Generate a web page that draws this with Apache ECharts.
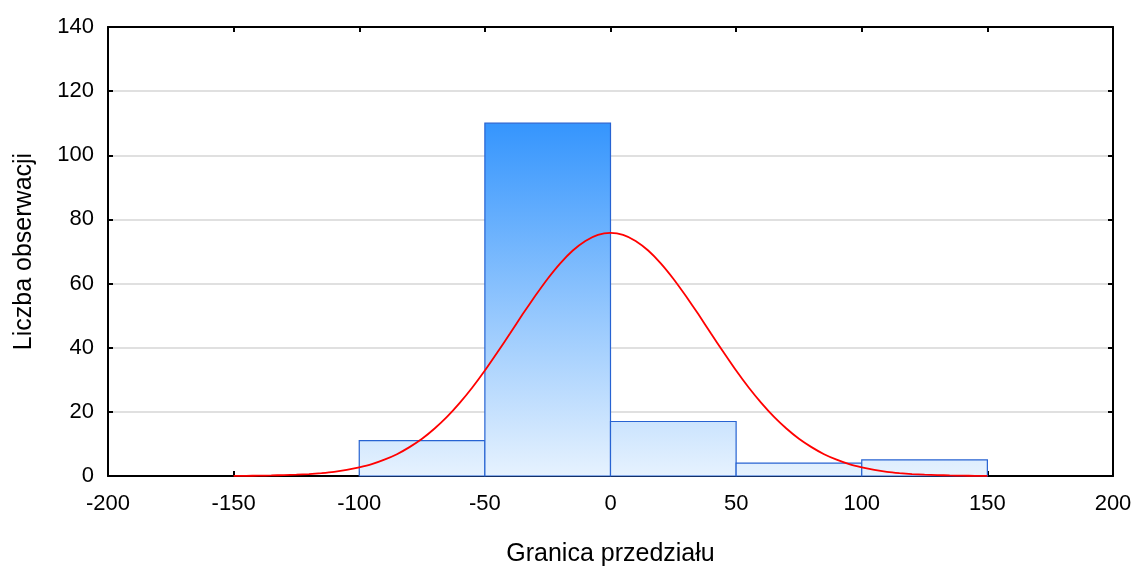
<!DOCTYPE html>
<html>
<head>
<meta charset="utf-8">
<script src="https://cdn.jsdelivr.net/npm/echarts@6/dist/echarts.min.js"></script>
<style>
  html, body { margin: 0; padding: 0; background: #fff; }
  #chart { width: 1138px; height: 566px; }
</style>
</head>
<body>
<div id="chart"></div>
<script>
// histogram bins (bin edges + counts)
const binStart = [-100, -50, 0, 50, 100]
const binEnd = [-50, 0, 50, 100, 150]
const counts = [11, 110, 17, 4, 5]

// red fitted curve (every 5 units)
const curveX = [-150, -145, -140, -135, -130, -125, -120, -115, -110, -105, -100, -95, -90, -85, -80, -75,
  -70, -65, -60, -55, -50, -45, -40, -35, -30, -25, -20, -15, -10, -5, 0,
  5, 10, 15, 20, 25, 30, 35, 40, 45, 50, 55, 60, 65, 70, 75,
  80, 85, 90, 95, 100, 105, 110, 115, 120, 125, 130, 135, 140, 145, 150]
const curveY = [0.04, 0.07, 0.1, 0.17, 0.3, 0.4, 0.6, 0.9, 1.3, 1.9, 2.7, 3.7, 5.1, 6.8, 9.0, 11.6,
  14.8, 18.5, 22.8, 27.6, 32.9, 38.6, 44.4, 50.4, 56.1, 61.5, 66.3, 70.3, 73.3, 75.2, 75.8,
  75.2, 73.3, 70.3, 66.3, 61.5, 56.1, 50.4, 44.4, 38.6, 32.9, 27.6, 22.8, 18.5, 14.8, 11.6,
  9.0, 6.8, 5.1, 3.7, 2.7, 1.9, 1.3, 0.9, 0.6, 0.4, 0.3, 0.17, 0.1, 0.07, 0.04]

const xMin = -200, xMax = 200, xStep = 50
const yMin = 0, yMax = 140, yStep = 20

const font = 'Liberation Sans, Arial, sans-serif'
const chart = echarts.init(document.getElementById('chart'))

const barData = binStart.map((s, i) => [s, binEnd[i], counts[i]])
const curveData = curveX.map((x, i) => [x, curveY[i]])
const topCount = Math.max(...counts)

// top / right axes only draw the frame and inward ticks
function frameAxis(pos, isX) {
  return {
    type: 'value',
    position: pos,
    min: isX ? xMin : yMin,
    max: isX ? xMax : yMax,
    interval: isX ? xStep : yStep,
    axisLine: { show: true, onZero: false, lineStyle: { color: '#000', width: 2 } },
    axisTick: { show: true, inside: true, length: 5, lineStyle: { color: '#000', width: 2 } },
    axisLabel: { show: false },
    splitLine: { show: false }
  }
}

const option = {
  animation: false,
  grid: { left: 108, right: 25, top: 27, bottom: 90, containLabel: false, outerBoundsMode: 'none' },
  xAxis: [
    {
      type: 'value',
      position: 'bottom',
      min: xMin,
      max: xMax,
      interval: xStep,
      name: 'Granica przedziału',
      nameLocation: 'middle',
      nameGap: 66,
      nameTextStyle: { color: '#000', fontSize: 25, fontFamily: font },
      axisLine: { show: true, onZero: false, lineStyle: { color: '#000', width: 2 } },
      axisTick: { show: true, inside: true, length: 5, lineStyle: { color: '#000', width: 2 } },
      axisLabel: { color: '#000', fontSize: 22, fontFamily: font, margin: 17 },
      splitLine: { show: false }
    },
    frameAxis('top', true)
  ],
  yAxis: [
    {
      type: 'value',
      position: 'left',
      min: yMin,
      max: yMax,
      interval: yStep,
      name: 'Liczba obserwacji',
      nameLocation: 'middle',
      nameGap: 71,
      nameTextStyle: { color: '#000', fontSize: 25, fontFamily: font },
      axisLine: { show: true, onZero: false, lineStyle: { color: '#000', width: 2 } },
      axisTick: { show: true, inside: true, length: 5, lineStyle: { color: '#000', width: 2 } },
      axisLabel: { color: '#000', fontSize: 22, fontFamily: font, margin: 14 },
      splitLine: { show: true, lineStyle: { color: '#d6d6d6', width: 1.5 } }
    },
    frameAxis('right', false)
  ],
  series: [
    {
      type: 'custom',
      xAxisIndex: 0,
      yAxisIndex: 0,
      data: barData,
      z: 2,
      renderItem: function(params, api) {
        const p0 = api.coord([api.value(0), 0])
        const p1 = api.coord([api.value(1), api.value(2)])
        const gTop = api.coord([0, topCount])[1]
        const gBot = api.coord([0, 0])[1]
        return {
          type: 'rect',
          shape: { x: p0[0], y: p1[1], width: p1[0] - p0[0], height: p0[1] - p1[1] },
          style: {
            fill: {
              type: 'linear', x: 0, y: gTop, x2: 0, y2: gBot, global: true,
              colorStops: [
                { offset: 0, color: '#3595fd' },
                { offset: 1, color: '#e6f2fe' }
              ]
            },
            stroke: '#2763d2',
            lineWidth: 1.2
          }
        }
      }
    },
    {
      type: 'line',
      xAxisIndex: 0,
      yAxisIndex: 0,
      data: curveData,
      smooth: 0.2,
      showSymbol: false,
      z: 5,
      lineStyle: { color: '#ff0000', width: 1.8 }
    }
  ]
}

chart.setOption(option)
</script>
</body>
</html>
